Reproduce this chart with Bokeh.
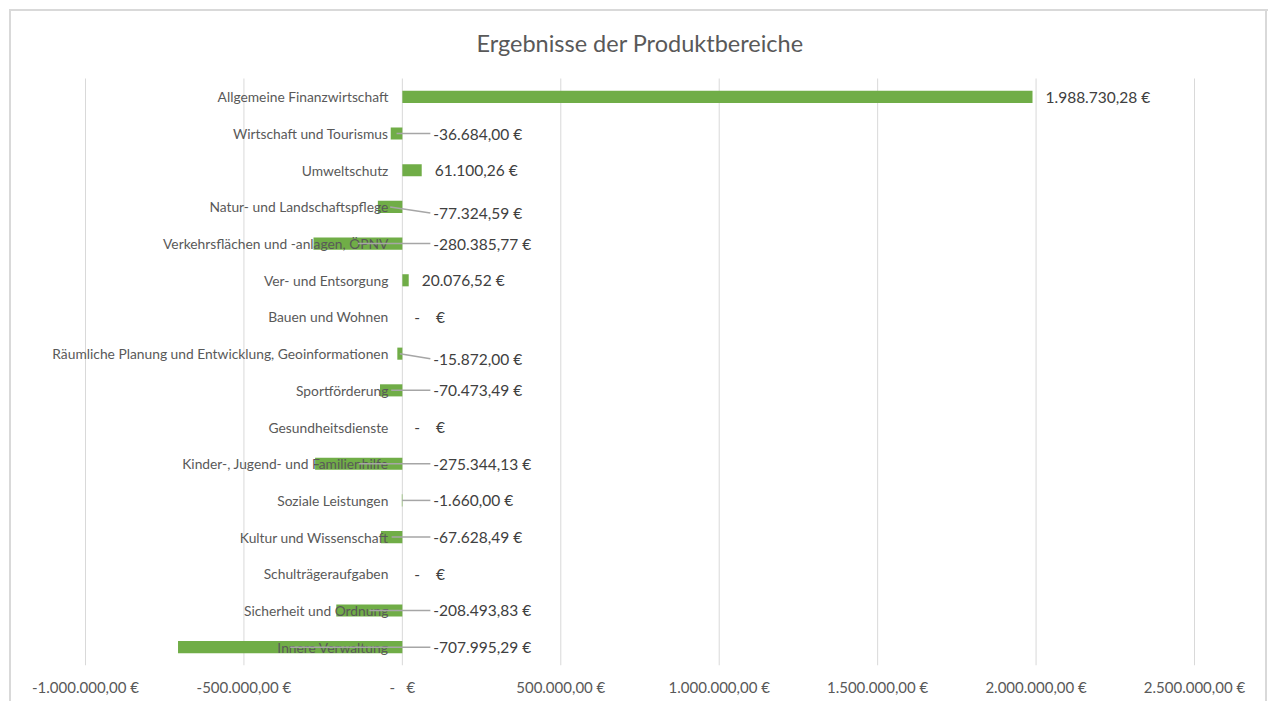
from bokeh.plotting import figure
from bokeh.models import Range1d, FixedTicker, ColumnDataSource
from bokeh.core.properties import value
from bokeh.embed import file_html
from bokeh.resources import INLINE

categories = [
    "Allgemeine Finanzwirtschaft",
    "Wirtschaft und Tourismus",
    "Umweltschutz",
    "Natur- und Landschaftspflege",
    "Verkehrsflächen und -anlagen, ÖPNV",
    "Ver- und Entsorgung",
    "Bauen und Wohnen",
    "Räumliche Planung und Entwicklung, Geoinformationen",
    "Sportförderung",
    "Gesundheitsdienste",
    "Kinder-, Jugend- und Familienhilfe",
    "Soziale Leistungen",
    "Kultur und Wissenschaft",
    "Schulträgeraufgaben",
    "Sicherheit und Ordnung",
    "Innere Verwaltung",
]
values = [
    1988730.28, -36684.00, 61100.26, -77324.59, -280385.77, 20076.52, 0.0,
    -15872.00, -70473.49, 0.0, -275344.13, -1660.00, -67628.49, 0.0,
    -208493.83, -707995.29,
]
tick_values = [-1000000, -500000, 0, 500000, 1000000, 1500000, 2000000, 2500000]
tick_labels = ["-1.000.000,00 €", "-500.000,00 €", "-\u00a0\u00a0\u00a0€", "500.000,00 €",
               "1.000.000,00 €", "1.500.000,00 €", "2.000.000,00 €", "2.500.000,00 €"]
title_text = "Ergebnisse der Produktbereiche"

# small vertical nudges (px) of moved data labels
label_nudge_px = {"Natur- und Landschaftspflege": 6,
                  "Räumliche Planung und Entwicklung, Geoinformationen": 5}


def fmt_eur(v):
    if v == 0:
        return "-\u00a0\u00a0\u00a0\u00a0€"
    s = f"{abs(v):,.2f}".replace(",", "X").replace(".", ",").replace("X", ".")
    return ("-" if v < 0 else "") + s + " €"


# ---- layout (pixels) ----
W, H = 1268, 701
PLOT_L, PLOT_R = 85, 1194       # where the value axis min / max sit
PLOT_T, PLOT_B = 78, 665        # top / bottom of the category band
TITLE_Y = 42

XMIN, XMAX = tick_values[0], tick_values[-1]
n = len(categories)
upp = (XMAX - XMIN) / (PLOT_R - PLOT_L)      # value units per pixel
rpp = n / (PLOT_B - PLOT_T)                  # rows per pixel
x_start = XMIN - PLOT_L * upp
x_end = x_start + W * upp
y_bottom = n - 0.5
y_top = -0.5 - PLOT_T * rpp

GREEN = "#70ad47"
GRAY = "#595959"
DARK = "#404040"
GRID = "#d9d9d9"
FONT = "Lato"

p = figure(frame_width=W, frame_height=PLOT_B, output_backend="svg", toolbar_location=None,
           x_range=Range1d(x_start, x_end), y_range=Range1d(y_bottom, y_top),
           min_border_left=0, min_border_right=0, min_border_top=0,
           min_border_bottom=H - PLOT_B)
p.outline_line_color = None
p.background_fill_color = None
p.border_fill_color = None
g = f"linear-gradient({GRID},{GRID})"
p.styles = {
    "background-color": "white",
    "background-image": ", ".join([g, g, g]),
    "background-size": "1260px 2px, 2px 720px, 2px 720px",
    "background-position": "9px 9px, 9px 9px, 1265px 9px",
    "background-repeat": "no-repeat",
}

p.xaxis.ticker = FixedTicker(ticks=tick_values)
p.xaxis.major_label_overrides = {t: l for t, l in zip(tick_values, tick_labels)}
p.xaxis.axis_line_color = None
p.xaxis.major_tick_line_color = None
p.xaxis.minor_tick_line_color = None
p.xaxis.major_label_text_font = FONT
p.xaxis.major_label_text_font_size = "15px"
p.xaxis.major_label_text_color = GRAY
p.xaxis.major_label_standoff = 6
p.yaxis.visible = False
p.xgrid.grid_line_color = None
p.ygrid.grid_line_color = None

# vertical gridlines over the category band
p.segment(x0=tick_values, y0=[-0.5] * len(tick_values), x1=tick_values,
          y1=[n - 0.5] * len(tick_values), line_color=GRID, line_width=1)

# title
p.text(x=[(XMIN + XMAX) / 2], y=[-0.5 - (PLOT_T - TITLE_Y) * rpp], text=[title_text],
       text_align="center", text_baseline="middle", text_font=value(FONT),
       text_font_size="23.5px", text_color=GRAY)

ys = list(range(n))
src = ColumnDataSource(dict(y=ys, v=values, cat=categories))
p.hbar(y="y", left=0, right="v", height=0.33, source=src, fill_color=GREEN, line_color=None)

# category labels next to the axis (at zero)
p.text(x=0, y="y", text="cat", source=src, x_offset=-14, text_align="right",
       text_baseline="middle", text_font=value(FONT), text_font_size="13.8px", text_color=GRAY)

# data labels
gap_units = 28 * upp
pos_x, pos_y, pos_t = [], [], []
neg_x, neg_y, neg_t = [], [], []
zero_x, zero_y, zero_t = [], [], []
lx0, ly0, lx1, ly1 = [], [], [], []
for i, (c, v) in enumerate(zip(categories, values)):
    nudge = label_nudge_px.get(c, 0) * rpp
    if v > 0:
        pos_x.append(v); pos_y.append(i); pos_t.append(fmt_eur(v))
    elif v == 0:
        zero_x.append(0); zero_y.append(i); zero_t.append(fmt_eur(v))
    else:
        neg_x.append(0); neg_y.append(i + nudge); neg_t.append(fmt_eur(v))
        lx0.append(v / 2); ly0.append(i)
        lx1.append(gap_units); ly1.append(i + nudge)

p.segment(x0=lx0, y0=ly0, x1=lx1, y1=ly1, line_color="#a6a6a6", line_width=1.5)
p.text(x=pos_x, y=pos_y, text=pos_t, x_offset=13, text_align="left", text_baseline="middle",
       text_font=value(FONT), text_font_size="15.5px", text_color=DARK)
p.text(x=neg_x, y=neg_y, text=neg_t, x_offset=31, text_align="left", text_baseline="middle",
       text_font=value(FONT), text_font_size="15.5px", text_color=DARK)
p.text(x=zero_x, y=zero_y, text=zero_t, x_offset=12, text_align="left", text_baseline="middle",
       text_font=value(FONT), text_font_size="15.5px", text_color=DARK)

open("out.html", "w").write(file_html(p, INLINE))
